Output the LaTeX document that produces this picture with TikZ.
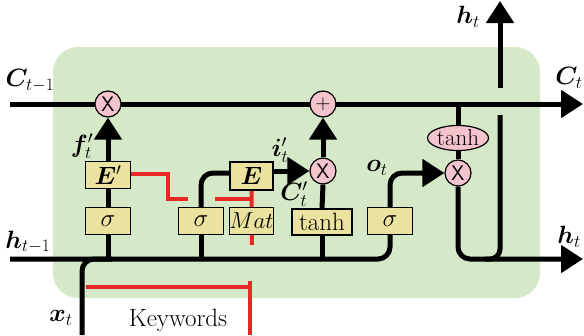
\RequirePackage{fix-cm}
\documentclass[tikz,border=0pt]{standalone}
\usepackage{amsmath,bm}
\usetikzlibrary{arrows.meta,shapes.geometric,calc}
\definecolor{cellgreen}{RGB}{213,232,200}
\definecolor{boxyellow}{RGB}{234,226,158}
\definecolor{gatepink}{RGB}{244,196,204}
\definecolor{kwred}{RGB}{232,40,36}
\pgfdeclarelayer{bg}
\pgfsetlayers{bg,main}
\begin{document}
\begin{tikzpicture}[x=1pt,y=-1pt,
  font=\fontsize{25}{29}\selectfont,
  flow/.style={line width=5pt, black},
  tipflow/.style={flow, -{Triangle[length=22pt,width=27pt]}},
  kwline/.style={line width=4pt, kwred},
  gatebox/.style={draw=black, line width=1.2pt, fill=boxyellow, minimum width=45pt, minimum height=27pt, inner sep=0pt},
  op/.style={circle, draw=black, line width=1.2pt, fill=gatepink, minimum size=26pt, inner sep=0pt, font=\fontsize{21}{21}\sffamily},
  lab/.style={inner sep=0pt}
]
\useasboundingbox (0,0) rectangle (584,335);

% operator circles
\node[op] (mf) at (108,104) {X};
\node[op] (add) at (323,104) {+};
\node[op] (mi) at (323,171) {X};
\node[op] (mo) at (458,173) {X};
\node[ellipse, draw=black, line width=1.2pt, fill=gatepink, minimum width=61pt, minimum height=25pt, inner xsep=-3pt, inner ysep=0pt, font=\fontsize{23}{23}\selectfont] (th) at (458,138) {tanh};

% gate boxes
\node[gatebox] (ep) at (108,175) {$\bm{E}'$};
\node[gatebox] (s1) at (108,221) {$\sigma$};
\node[gatebox] (s2) at (201,221) {$\sigma$};
\node[gatebox, minimum width=43pt, font=\fontsize{23}{23}\selectfont] (mat) at (251.5,221) {$Mat$};
\node[gatebox, minimum width=43pt, minimum height=28pt] (E) at (251.5,176) {$\bm{E}$};
\node[gatebox, minimum width=60pt, minimum height=26pt] (tb) at (322,222) {tanh};
\node[gatebox] (s4) at (390,221) {$\sigma$};

% free ends
\coordinate (cin) at (10,104);
\coordinate (cout) at (583,104);
\coordinate (hin) at (10,259);
\coordinate (hout) at (583,259);
\coordinate (hj) at (500,259);
\coordinate (hjl) at (485,259);
\coordinate (hgap) at (500,115);
\coordinate (hup) at (500,88);
\coordinate (htop) at (500,1);
\coordinate (xin) at (82,335);
\coordinate (xj) at (112,259);
\coordinate (r1) at (168,174);
\coordinate (r2) at (168,199);
\coordinate (r3) at (188,199);
\coordinate (r4) at (215,199);
\coordinate (r5) at (253,199);
\coordinate (r6) at (252,245);
\coordinate (r7) at (86,287);
\coordinate (r8) at (250,287);
\coordinate (r9) at (250,281);
\coordinate (r10) at (250,335);

% labels
\node[lab] (lCin) at (30,81) {$\bm{C}_{t-1}$};
\node[lab] (lCout) at (569,78) {$\bm{C}_t$};
\node[lab] (lhtop) at (468,17) {$\bm{h}_t$};
\node[lab] (lhout) at (569,237) {$\bm{h}_t$};
\node[lab] (lhin) at (28,242) {$\bm{h}_{t-1}$};
\node[lab] (lx) at (61,318) {$\bm{x}_t$};
\node[lab] (kw) at (178,320) {Keywords};
\node[lab] (lf) at (82,146) {$\bm{f}'_t$};
\node[lab] (li) at (280,150) {$\bm{i}'_t$};
\node[lab] (lCp) at (294,194) {$\bm{C}'_t$};
\node[lab] (lo) at (377,168) {$\bm{o}_t$};

\begin{pgfonlayer}{bg}
  \fill[cellgreen, rounded corners=25pt] (53,47) rectangle (540,298);
  % keyword (red) lines
  \draw[kwline] (ep.east |- r1) -- (r1) -- (r2) -- (r3);
  \draw[kwline] (r4) -- (r5);
  \draw[kwline] (E.south) -- (r6);
  \draw[kwline] (r7) -- (r8);
  \draw[kwline] (r9) -- (r10);
  % cell state
  \draw[tipflow] (cin) -- (cout);
  % hidden input
  \draw[flow, rounded corners=12pt] (hin) -| (s4.south);
  \draw[flow, rounded corners=12pt] (xin) |- (xj);
  \draw[flow] (s1.south) -- (s1.south |- hin);
  \draw[flow] (s2.south) -- (s2.south |- hin);
  \draw[flow] (tb.south) -- (tb.south |- hin);
  % forget gate
  \draw[flow] (s1.north) -- (ep.south);
  \draw[tipflow] (ep.north) -- (mf.south);
  % input gate
  \draw[flow, rounded corners=12pt] (s2.north) |- ($(E.west)+(0,-3)$);
  \draw[tipflow] (E.east |- mi.west) -- (mi.west);
  \draw[flow] (tb.north) -- (mi.south);
  \draw[tipflow] (mi.north) -- (add.south);
  % output gate
  \draw[tipflow, rounded corners=12pt] (s4.north) |- (mo.west);
  \draw[flow] (th.north |- cin) -- (th.north);
  \draw[flow] (th.south) -- (mo.north);
  \draw[tipflow, rounded corners=12pt] (mo.south) |- (hout);
  \draw[flow, rounded corners=10pt] (hjl) -- (hj) -- (hgap);
  \draw[tipflow] (hup) -- (htop);
\end{pgfonlayer}
\end{tikzpicture}
\end{document}
